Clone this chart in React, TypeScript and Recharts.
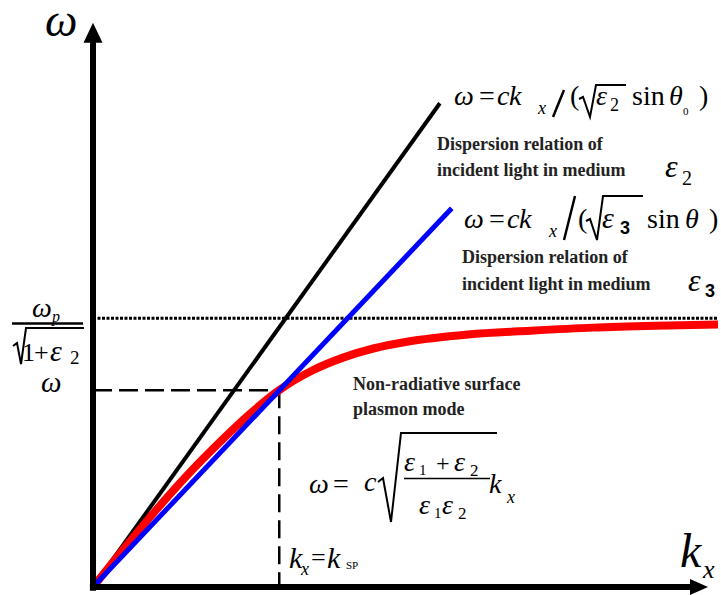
import React from 'react';
import { LineChart, Line, XAxis, YAxis, ReferenceLine, ReferenceDot } from 'recharts';

const W = 721;
const H = 595;

// Wavevector k_x and frequency ω in arbitrary units
const kMax = 10;
const wMax = 9;

// Light line in medium ε2 (black)
const lightE2K = [0, 5.55];
const lightE2W = [0, 7.74];

// Light line in medium ε3 (blue)
const lightE3K = [0, 5.74];
const lightE3W = [0, 6.06];

// Surface plasmon dispersion (red)
const spK = [0, 0.5, 1, 1.5, 2, 2.5, 2.98, 3.5, 4, 4.5, 5, 6, 7, 8, 9, 10];
const spW = [0, 0.62, 1.22, 1.78, 2.29, 2.76, 3.15, 3.46, 3.67, 3.82, 3.92, 4.04, 4.1, 4.15, 4.18, 4.2];

// Asymptotic limit ω_p / sqrt(1 + ε2) and the coupling point
const omegaLimit = 4.3;
const kSP = 2.98;
const omegaSP = 3.15;

const toPoints = (ks: number[], ws: number[]) => ks.map((k, i) => ({ k, w: ws[i] }));

const lightE2 = toPoints(lightE2K, lightE2W);
const lightE3 = toPoints(lightE3K, lightE3W);
const spp = toPoints(spK, spW);

const RightArrow = (p: any) => (
  <path d={`M${p.cx},${p.cy} L${p.cx - 18},${p.cy - 8} L${p.cx - 18},${p.cy + 8} Z`} fill="#000" />
);
const UpArrow = (p: any) => (
  <path d={`M${p.cx},${p.cy} L${p.cx - 9.5},${p.cy + 20} L${p.cx + 9.5},${p.cy + 20} Z`} fill="#000" />
);

const SERIF = "'Liberation Serif'";
const SANS = "'Liberation Sans'";

type TProps = {
  x: number;
  y: number;
  size: number;
  italic?: boolean;
  bold?: boolean;
  family?: string;
  fill?: string;
  children: React.ReactNode;
};

const T = ({ x, y, size, italic, bold, family, fill, children }: TProps) => (
  <text
    x={x}
    y={y}
    fill={fill || '#000'}
    style={{
      fontFamily: family || SERIF,
      fontSize: size,
      fontStyle: italic ? 'italic' : 'normal',
      fontWeight: bold ? 700 : 400,
    }}
  >
    {children}
  </text>
);

const Annotations = () => (
  <svg
    width={W}
    height={H}
    style={{ position: 'absolute', left: 0, top: 0, pointerEvents: 'none', fontFamily: SERIF }}
  >
    {/* axis titles */}
    <T x={45} y={36} size={46} italic>ω</T>
    <T x={680} y={567} size={48} italic>k</T>
    <T x={703} y={578} size={26} italic>x</T>

    {/* ω_p / sqrt(1 + ε2) */}
    <T x={32} y={317} size={28} italic>ω</T>
    <T x={52} y={322} size={16} italic>p</T>
    <line x1={12} y1={323.5} x2={83} y2={323.5} stroke="#000" strokeWidth={2.5} />
    <path d="M13,346 L17,343 L21,364 L26,328 L84,328" fill="none" stroke="#000" strokeWidth={2} />
    <T x={22} y={361} size={26}>1</T>
    <T x={34} y={361} size={26}>+</T>
    <T x={50} y={361} size={30} italic>ε</T>
    <T x={70} y={364} size={19}>2</T>

    {/* ω at the coupling point */}
    <T x={41} y={392} size={29} italic>ω</T>

    {/* k_x = k_SP */}
    <T x={289} y={568} size={30} italic>k</T>
    <T x={301} y={575} size={18} italic>x</T>
    <T x={311} y={566} size={26}>=</T>
    <T x={327} y={568} size={30} italic>k</T>
    <T x={346} y={569} size={11}>SP</T>

    {/* ω = c k_x / (sqrt(ε2) sin θ0) */}
    <T x={454} y={105} size={28} italic>ω</T>
    <T x={479} y={105} size={28}>=</T>
    <T x={497} y={105} size={28} italic>c</T>
    <T x={509} y={105} size={28} italic>k</T>
    <T x={538} y={114} size={18} italic>x</T>
    <line x1={553} y1={117} x2={564} y2={90} stroke="#000" strokeWidth={2.5} />
    <T x={570} y={105} size={28}>(</T>
    <path d="M579,99 L583,97 L590,117 L596,85 L626,85" fill="none" stroke="#000" strokeWidth={2} />
    <T x={596} y={105} size={28} italic>ε</T>
    <T x={610} y={111} size={18}>2</T>
    <T x={632} y={105} size={28}>sin</T>
    <T x={669} y={105} size={28} italic>θ</T>
    <T x={683} y={115} size={11}>0</T>
    <T x={699} y={105} size={28}>)</T>

    <T x={437} y={150} size={18} bold fill="#222">Dispersion relation of</T>
    <T x={437} y={176} size={18} bold fill="#222">incident light in medium</T>
    <T x={665} y={177} size={32} italic>ε</T>
    <T x={682} y={185} size={20}>2</T>

    {/* ω = c k_x / (sqrt(ε3) sin θ) */}
    <T x={464} y={228} size={28} italic>ω</T>
    <T x={489} y={228} size={28}>=</T>
    <T x={507} y={228} size={28} italic>c</T>
    <T x={519} y={228} size={28} italic>k</T>
    <T x={549} y={237} size={18} italic>x</T>
    <line x1={564} y1={240} x2={575} y2={196} stroke="#000" strokeWidth={2.5} />
    <T x={578} y={228} size={28}>(</T>
    <path d="M586,221 L590,219 L597,240 L603,196 L643,196" fill="none" stroke="#000" strokeWidth={2} />
    <T x={602} y={228} size={30} italic>ε</T>
    <T x={620} y={234} size={18} bold family={SANS}>3</T>
    <T x={647} y={228} size={28}>sin</T>
    <T x={685} y={228} size={28} italic>θ</T>
    <T x={709} y={228} size={28}>)</T>

    <T x={462} y={263} size={18} bold fill="#222">Dispersion relation of</T>
    <T x={462} y={290} size={18} bold fill="#222">incident light in medium</T>
    <T x={688} y={291} size={32} italic>ε</T>
    <T x={705} y={297} size={18} bold family={SANS}>3</T>

    {/* surface plasmon label */}
    <T x={353} y={390} size={18} bold fill="#222">Non-radiative surface</T>
    <T x={353} y={415} size={18} bold fill="#222">plasmon mode</T>

    {/* ω = c sqrt((ε1 + ε2)/(ε1 ε2)) k_x */}
    <T x={309} y={493} size={28} italic>ω</T>
    <T x={333} y={493} size={28}>=</T>
    <T x={364} y={491} size={28} italic>c</T>
    <path d="M378,482 L383,478 L391,522 L401,433 L497,433" fill="none" stroke="#000" strokeWidth={2} />
    <T x={404} y={471} size={28} italic>ε</T>
    <T x={419} y={475} size={15}>1</T>
    <T x={436} y={471} size={24}>+</T>
    <T x={454} y={471} size={28} italic>ε</T>
    <T x={470} y={476} size={17}>2</T>
    <line x1={404} y1={478.5} x2={490} y2={478.5} stroke="#000" strokeWidth={1.5} />
    <T x={419} y={514} size={28} italic>ε</T>
    <T x={434} y={518} size={15}>1</T>
    <T x={442} y={514} size={28} italic>ε</T>
    <T x={458} y={519} size={17}>2</T>
    <T x={489} y={493} size={28} italic>k</T>
    <T x={507} y={503} size={18} italic>x</T>
  </svg>
);

export default function App() {
  return (
    <div style={{ position: 'absolute', left: 0, top: 0, width: W, height: H, background: '#fff' }}>
      <LineChart width={W} height={H} margin={{ top: 24.5, right: 3, bottom: 8, left: 93 }}>
        <XAxis type="number" dataKey="k" domain={[0, kMax]} hide allowDataOverflow />
        <YAxis type="number" dataKey="w" domain={[0, wMax]} hide allowDataOverflow />

        {/* limit frequency */}
        <ReferenceLine
          segment={[{ x: 0, y: omegaLimit }, { x: kMax, y: omegaLimit }]}
          stroke="#000"
          strokeWidth={3}
          strokeDasharray="3 1.5"
          ifOverflow="visible"
        />
        {/* projections of the coupling point */}
        <ReferenceLine
          segment={[{ x: 0, y: omegaSP }, { x: kSP, y: omegaSP }]}
          stroke="#000"
          strokeWidth={2.5}
          strokeDasharray="19 7"
          ifOverflow="visible"
        />
        <ReferenceLine
          segment={[{ x: kSP, y: omegaSP }, { x: kSP, y: 0 }]}
          stroke="#000"
          strokeWidth={2.5}
          strokeDasharray="18 8"
          ifOverflow="visible"
        />

        <Line
          data={lightE2}
          dataKey="w"
          type="linear"
          stroke="#000"
          strokeWidth={4}
          dot={false}
          isAnimationActive={false}
        />
        <Line
          data={spp}
          dataKey="w"
          type="monotone"
          stroke="#ff0000"
          strokeWidth={8}
          dot={false}
          isAnimationActive={false}
        />
        <Line
          data={lightE3}
          dataKey="w"
          type="linear"
          stroke="#0000ff"
          strokeWidth={5}
          dot={false}
          isAnimationActive={false}
        />

        {/* axes with arrowheads */}
        <ReferenceLine
          segment={[{ x: 0, y: -0.06 }, { x: 0, y: 8.75 }]}
          stroke="#000"
          strokeWidth={6}
          ifOverflow="visible"
        />
        <ReferenceLine
          segment={[{ x: -0.05, y: 0 }, { x: 9.6, y: 0 }]}
          stroke="#000"
          strokeWidth={6}
          ifOverflow="visible"
        />
        <ReferenceDot x={9.84} y={0} r={0} shape={RightArrow} ifOverflow="visible" />
        <ReferenceDot x={0} y={9.03} r={0} shape={UpArrow} ifOverflow="visible" />
      </LineChart>
      <Annotations />
    </div>
  );
}
